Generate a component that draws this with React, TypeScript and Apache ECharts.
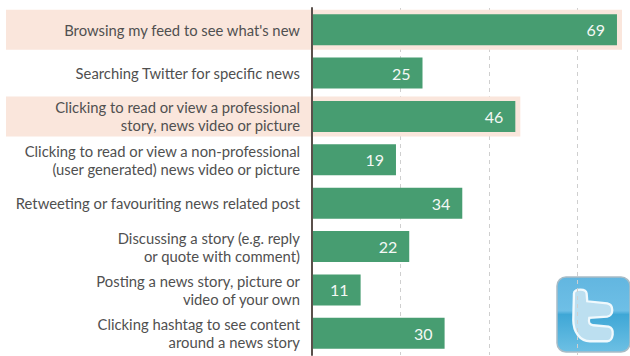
import React, { useEffect, useRef } from "react";
import * as echarts from "echarts";

const categories = [
  "Browsing my feed to see what's new",
  "Searching Twitter for specific news",
  "Clicking to read or view a professional\nstory, news video or picture",
  "Clicking to read or view a non-professional\n(user generated) news video or picture",
  "Retweeting or favouriting news related post",
  "Discussing a story (e.g. reply\nor quote with comment)",
  "Posting a news story, picture or\nvideo of your own",
  "Clicking hashtag to see content\naround a news story",
];
const values = [69, 25, 46, 19, 34, 22, 11, 30];
const highlighted = [0, 2];
const FONT = "Lato";

const birdPath =
  "M132 100 C132 86 168 84 170 100 L172 124 L232 130 C252 134 252 168 232 170 L178 174 C174 190 180 194 190 196 L236 200 C256 206 250 244 232 244 L180 244 C150 244 130 215 130 180 Z";
echarts.graphic.registerShape("tBird", echarts.graphic.extendPath(birdPath, {}) as any);

export default function App() {
  const ref = useRef<HTMLDivElement>(null);
  useEffect(() => {
    document.body.style.margin = "0";
    const chart = echarts.init(ref.current!, undefined, { renderer: "svg" });
    chart.setOption({
      animation: false,
      backgroundColor: "#ffffff",
      grid: { left: 312, right: 630 - 312 - 309.4, top: 8, bottom: 1 },
      xAxis: {
        type: "value",
        min: 0,
        max: 70,
        interval: 20,
        axisLine: { show: false },
        axisTick: { show: false },
        axisLabel: { show: false },
        splitLine: {
          show: true,
          showMinLine: false,
          showMaxLine: false,
          lineStyle: { color: "#cfcfcf", type: [4, 4], width: 1 },
        },
      },
      yAxis: {
        type: "category",
        inverse: true,
        data: categories,
        axisTick: { show: false },
        axisLine: { show: true, lineStyle: { color: "#5a504b", width: 2 } },
        axisLabel: {
          margin: 12,
          fontFamily: FONT,
          fontSize: 14.8,
          lineHeight: 18,
          color: "#505050",
          align: "right",
        },
        z: 5,
      },
      series: [
        {
          type: "custom",
          z: 1,
          clip: false,
          data: highlighted.map((i) => [values[i], i]),
          renderItem: (_p: any, api: any) => {
            const pt = api.coord([api.value(0), api.value(1)]);
            return {
              type: "rect",
              shape: { x: 6, y: pt[1] - 20, width: pt[0] + 5 - 6, height: 40 },
              style: { fill: "#fae6dc" },
            };
          },
        },
        {
          type: "bar",
          z: 3,
          data: values,
          barWidth: 31,
          itemStyle: { color: "#479d71" },
          label: {
            show: true,
            position: "insideRight",
            distance: 12,
            color: "#f4f8f5",
            fontFamily: FONT,
            fontSize: 16,
          },
        },
      ],
      graphic: [
        {
          type: "group",
          z: 10,
          children: [
            {
              type: "rect",
              shape: { x: 557, y: 277, width: 73, height: 75, r: 9 },
              style: {
                fill: new echarts.graphic.LinearGradient(0, 0, 0, 1, [
                  { offset: 0, color: "#62b6e0" },
                  { offset: 0.45, color: "#6ebfe6" },
                  { offset: 0.5, color: "#3fa7d6" },
                  { offset: 1, color: "#6dc0e4" },
                ]),
                stroke: "#a9bcc6",
                lineWidth: 1.5,
              },
            },
            {
              type: "tBird",
              x: 530,
              y: 260,
              scaleX: 1 / 3,
              scaleY: 1 / 3,
              style: {
                fill: "#bcdff0",
                stroke: "#f0f9fd",
                lineWidth: 7,
              },
            },
          ],
        },
      ],
    });
    return () => chart.dispose();
  }, []);
  return <div ref={ref} style={{ width: 630, height: 356 }} />;
}
